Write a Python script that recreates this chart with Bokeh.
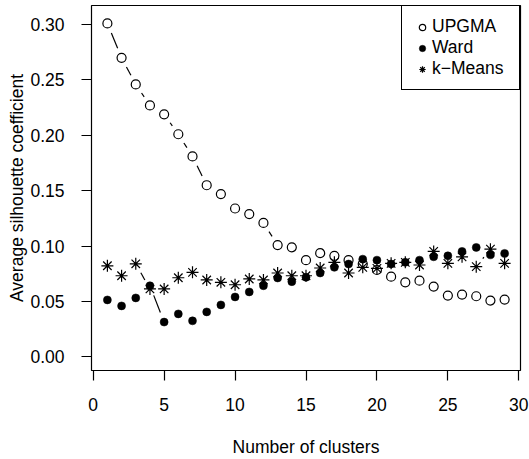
import math
from bokeh.plotting import figure
from bokeh.models import Range1d, FixedTicker, Legend, LegendItem, NumeralTickFormatter
from bokeh.embed import file_html
from bokeh.resources import INLINE

# ---------------- data ----------------
clusters = list(range(1, 30))
upgma = [0.301, 0.270, 0.246, 0.227, 0.219, 0.201, 0.181, 0.155, 0.147, 0.134,
         0.129, 0.121, 0.101, 0.099, 0.0874, 0.0937, 0.0913, 0.0874, 0.0840, 0.0785,
         0.0725, 0.0674, 0.0689, 0.0635, 0.0554, 0.0563, 0.0548, 0.0509, 0.0518]
ward = [0.0515, 0.0461, 0.0533, 0.0643, 0.0315, 0.0389, 0.0326, 0.0407, 0.0470, 0.0542,
        0.0587, 0.0643, 0.0713, 0.0680, 0.0719, 0.0758, 0.0809, 0.0839, 0.0883, 0.0874,
        0.0839, 0.0854, 0.0874, 0.0904, 0.0913, 0.0953, 0.0989, 0.0922, 0.0935]
kmeans = [0.0823, 0.0733, 0.0841, 0.0614, 0.0614, 0.0715, 0.0764, 0.0695, 0.0674, 0.0652,
          0.0704, 0.0695, 0.0758, 0.0733, 0.0733, 0.0803, 0.0854, 0.0758, 0.0809, 0.0800,
          0.0845, 0.0854, 0.0830, 0.0953, 0.0845, 0.0904, 0.0815, 0.0973, 0.0845]
series_names = ["UPGMA", "Ward", "k\u2212Means"]
x_ticks = [0, 5, 10, 15, 20, 25, 30]
y_ticks = [0.00, 0.05, 0.10, 0.15, 0.20, 0.25, 0.30]
x_title = "Number of clusters"
y_title = "Average silhouette coefficient"

# ---------------- layout ----------------
W, H = 529, 459
ML, MR, MT, MB = 91, 9, 5, 87
xlim = (1, 29)
ylim = (0.0, 0.305)
xpad = 0.04 * (xlim[1] - xlim[0])
ypad = 0.04 * (ylim[1] - ylim[0])
x_lo, x_hi = xlim[0] - xpad, xlim[1] + xpad
y_lo, y_hi = ylim[0] - ypad, ylim[1] + ypad

FONT = "Liberation Sans"
FS = "17.5px"

p = figure(width=W, height=H, x_range=Range1d(x_lo, x_hi), y_range=Range1d(y_lo, y_hi),
           output_backend="svg", toolbar_location=None,
           min_border_left=ML, min_border_right=MR, min_border_top=MT, min_border_bottom=MB)
p.xgrid.visible = False
p.ygrid.visible = False
p.background_fill_color = "white"
p.border_fill_color = "white"
p.outline_line_color = "black"
p.outline_line_width = 1.2
p.outline_line_alpha = 1.0

for ax in (p.xaxis[0], p.yaxis[0]):
    ax.axis_line_color = None
    ax.major_tick_out = 10
    ax.major_tick_in = 0
    ax.major_tick_line_color = "black"
    ax.major_tick_line_width = 1.2
    ax.minor_tick_line_color = None
    ax.major_label_text_font = FONT
    ax.major_label_text_font_size = FS
    ax.major_label_text_color = "black"
    ax.axis_label_text_font = FONT
    ax.axis_label_text_font_size = FS
    ax.axis_label_text_font_style = "normal"
    ax.axis_label_text_color = "black"

p.xaxis.ticker = FixedTicker(ticks=x_ticks)
p.yaxis.ticker = FixedTicker(ticks=y_ticks)
p.yaxis.formatter = NumeralTickFormatter(format="0.00")
p.xaxis.axis_label = x_title
p.yaxis.axis_label = y_title
p.xaxis.major_label_standoff = 17
p.xaxis.axis_label_standoff = 23
p.yaxis.major_label_standoff = 17
p.yaxis.axis_label_standoff = 0

# R type="b": segments between points, leaving a gap around each point
frame_w = W - ML - MR
frame_h = H - MT - MB
sx = frame_w / (x_hi - x_lo)
sy = frame_h / (y_hi - y_lo)
GAP = 10.4


def gapped(xs, ys):
    x0, y0, x1, y1 = [], [], [], []
    for i in range(len(xs) - 1):
        ddx = xs[i + 1] - xs[i]
        ddy = ys[i + 1] - ys[i]
        f = math.hypot(ddx * sx, ddy * sy)
        if f > 2 * GAP:
            t = GAP / f
            x0.append(xs[i] + t * ddx)
            y0.append(ys[i] + t * ddy)
            x1.append(xs[i + 1] - t * ddx)
            y1.append(ys[i + 1] - t * ddy)
    return x0, y0, x1, y1


renderers = []
styles = [
    dict(marker="circle", size=9, fill_color=None, line_color="black", line_width=1.2),
    dict(marker="circle", size=8, fill_color="black", line_color="black", line_width=0.5),
    dict(marker="asterisk", size=12, line_color="black", line_width=1.2),
]
for ys, st in zip([upgma, ward, kmeans], styles):
    x0, y0, x1, y1 = gapped(clusters, ys)
    p.segment(x0=x0, y0=y0, x1=x1, y1=y1, line_color="black", line_width=1.2, line_dash="20 8")
    r = p.scatter(x=clusters, y=ys, **st)
    renderers.append(r)

legend = Legend(
    items=[LegendItem(label=n, renderers=[r]) for n, r in zip(series_names, renderers)],
    location="top_right", margin=0, padding=10, spacing=0,
    glyph_width=20, glyph_height=16, label_height=16, label_width=77, label_standoff=0,
    border_line_color="black", border_line_width=1.2, border_line_alpha=1.0,
    background_fill_color="white", background_fill_alpha=1.0,
    label_text_font=FONT, label_text_font_size=FS, label_text_color="black",
    label_text_line_height=1.0,
)
p.add_layout(legend)

open("out.html", "w").write(file_html(p, INLINE))
